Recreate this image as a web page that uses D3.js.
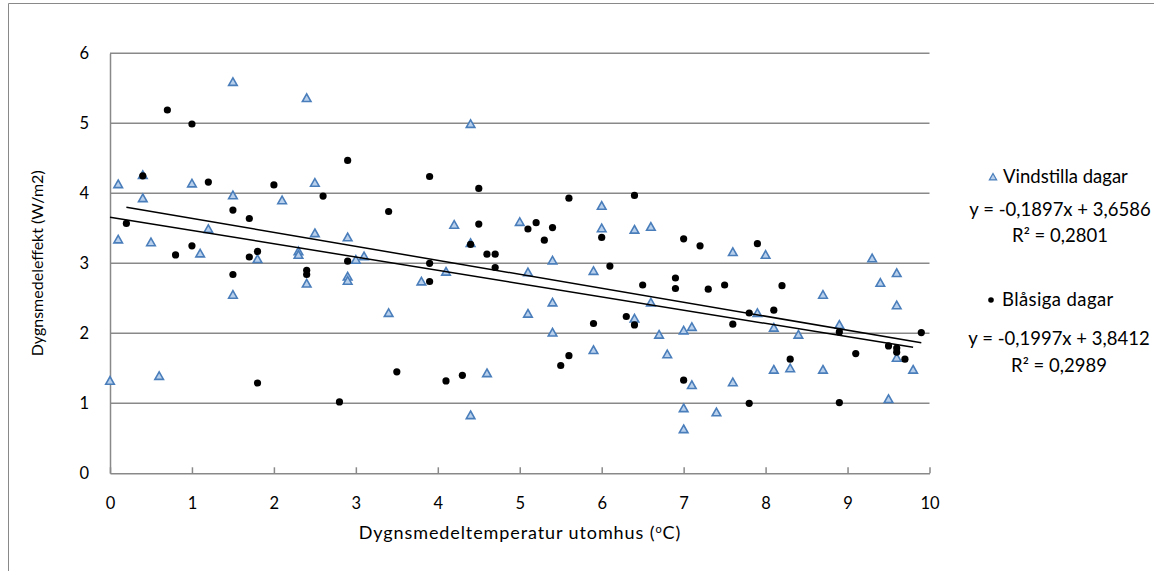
<!DOCTYPE html>
<html>
<head>
<meta charset="utf-8">
<script src="https://cdn.jsdelivr.net/npm/d3@7"></script>
<style>
  html, body { margin: 0; padding: 0; background: #fff; }
  svg { display: block; }
  text { font-family: Lato, "Open Sans", sans-serif; fill: #000; }
</style>
</head>
<body>
<svg id="chart" width="1154" height="571"></svg>
<script>
// Calm days (triangles): outdoor daily mean temperature and daily mean power
const calmTemp = [0.0, 0.1, 0.1, 0.4, 0.4, 0.5, 0.6, 1.0, 1.1, 1.2, 1.5, 1.5, 1.5, 1.8, 2.1, 2.3, 2.3, 2.4, 2.4, 2.5, 2.5,
  2.9, 2.9, 2.9, 3.0, 3.1, 3.4, 3.8, 4.1, 4.2, 4.4, 4.4, 4.4, 4.6, 5.0, 5.1, 5.1, 5.4, 5.4, 5.4, 5.9, 5.9,
  6.0, 6.0, 6.4, 6.4, 6.6, 6.6, 6.7, 6.8, 7.0, 7.0, 7.0, 7.1, 7.1, 7.4, 7.6, 7.6, 7.9, 8.0, 8.1, 8.1, 8.3,
  8.4, 8.7, 8.7, 8.9, 9.3, 9.4, 9.5, 9.6, 9.6, 9.6, 9.8];
const calmPower = [1.32, 4.13, 3.34, 4.26, 3.93, 3.30, 1.39, 4.14, 3.14, 3.49, 5.59, 3.97, 2.55, 3.06, 3.90, 3.17, 3.12, 5.36, 2.71, 4.15, 3.43,
  3.37, 2.81, 2.75, 3.05, 3.10, 2.29, 2.74, 2.88, 3.55, 4.99, 3.29, 0.83, 1.43, 3.59, 2.87, 2.28, 3.04, 2.44, 2.01, 2.89, 1.76,
  3.82, 3.50, 3.48, 2.21, 3.52, 2.44, 1.98, 1.70, 2.04, 0.93, 0.63, 2.09, 1.26, 0.87, 3.16, 1.30, 2.29, 3.12, 2.08, 1.48, 1.50,
  1.98, 2.55, 1.48, 2.12, 3.07, 2.72, 1.06, 2.86, 2.40, 1.65, 1.48];

// Windy days (dots)
const windyTemp = [0.2, 0.4, 0.7, 0.8, 1.0, 1.0, 1.2, 1.5, 1.5, 1.7, 1.7, 1.8, 1.8, 2.0, 2.4, 2.4, 2.6, 2.8, 2.9, 2.9,
  3.4, 3.5, 3.9, 3.9, 3.9, 4.1, 4.3, 4.4, 4.5, 4.5, 4.6, 4.7, 4.7, 5.1, 5.2, 5.3, 5.4, 5.5, 5.6, 5.6, 5.9,
  6.0, 6.1, 6.3, 6.4, 6.4, 6.5, 6.9, 6.9, 7.0, 7.0, 7.2, 7.3, 7.5, 7.6, 7.8, 7.8, 7.9, 8.1, 8.2, 8.3,
  8.9, 8.9, 9.1, 9.5, 9.6, 9.6, 9.7, 9.9];
const windyPower = [3.57, 4.25, 5.19, 3.12, 4.99, 3.25, 4.16, 3.76, 2.84, 3.64, 3.09, 3.17, 1.29, 4.12, 2.90, 2.84, 3.96, 1.02, 4.47, 3.03,
  3.74, 1.45, 4.24, 3.00, 2.74, 1.32, 1.40, 3.27, 4.07, 3.56, 3.13, 3.13, 2.94, 3.49, 3.58, 3.33, 3.51, 1.54, 3.93, 1.68, 2.14,
  3.37, 2.96, 2.24, 3.97, 2.12, 2.69, 2.79, 2.64, 3.35, 1.33, 3.25, 2.63, 2.69, 2.13, 2.29, 1.00, 3.28, 2.33, 2.68, 1.63,
  2.02, 1.01, 1.71, 1.82, 1.79, 1.73, 1.63, 2.01];

// Linear trend coefficients [slope, intercept] and R² per series
const calmTrend = [-0.1897, 3.6586];
const windyTrend = [-0.1997, 3.8412];
const calmR2 = "0,2801";
const windyR2 = "0,2989";

const seriesNames = ["Vindstilla dagar", "Blåsiga dagar"];
const xTicks = [0, 1, 2, 3, 4, 5, 6, 7, 8, 9, 10];
const yTicks = [0, 1, 2, 3, 4, 5, 6];

const svg = d3.select("#chart");
const gridColor = "#898989";

// Outer chart frame
svg.append("path")
  .attr("d", "M8.5,571 V3.5 H1154")
  .attr("fill", "none").attr("stroke", gridColor).attr("stroke-width", 1);

const x = d3.scaleLinear().domain([0, 10]).range([110, 929.5]);
const y = d3.scaleLinear().domain([0, 6]).range([473.3, 53.3]);

// Horizontal gridlines
svg.append("g").selectAll("line")
  .data(yTicks.filter(d => d > 0))
  .join("line")
  .attr("x1", x(0)).attr("x2", x(10))
  .attr("y1", d => y(d)).attr("y2", d => y(d))
  .attr("stroke", gridColor).attr("stroke-width", 1.5);

// X axis with inward ticks
const xAxis = svg.append("g")
  .attr("transform", `translate(0,${y(0)})`)
  .call(d3.axisBottom(x).tickValues(xTicks).tickFormat(d3.format("d"))
    .tickSizeInner(-6).tickSizeOuter(0).tickPadding(24));
xAxis.select(".domain").attr("stroke", gridColor).attr("stroke-width", 1.5);
xAxis.selectAll(".tick line").attr("stroke", gridColor).attr("stroke-width", 1.5);
xAxis.selectAll(".tick text").style("font-size", "16.5px").style("font-family", "Lato, sans-serif").attr("fill", "#000");

// Y axis
const yAxis = svg.append("g")
  .attr("transform", `translate(${x(0)},0)`)
  .call(d3.axisLeft(y).tickValues(yTicks).tickFormat(d3.format("d")).tickSize(0).tickPadding(21));
yAxis.select(".domain").attr("stroke", gridColor).attr("stroke-width", 1.5);
yAxis.selectAll(".tick text").style("font-size", "16.5px").style("font-family", "Lato, sans-serif").attr("fill", "#000");

// Axis titles
svg.append("text")
  .attr("transform", `translate(36,${(y(0) + y(6)) / 2}) rotate(-90)`)
  .attr("text-anchor", "middle").attr("dominant-baseline", "central")
  .style("font-size", "16px")
  .text("Dygnsmedeleffekt (W/m2)");

const xTitle = svg.append("text")
  .attr("x", 520).attr("y", 539)
  .attr("text-anchor", "middle")
  .style("font-size", "18px")
  .style("letter-spacing", "0.9px");
xTitle.append("tspan").text("Dygnsmedeltemperatur utomhus (");
xTitle.append("tspan").attr("dy", -6).style("font-size", "11px").text("o");
xTitle.append("tspan").attr("dy", 6).text("C)");

// Markers
const triangle = (cx, cy) => `M${cx},${cy - 4.2} L${cx + 4.3},${cy + 3.4} L${cx - 4.3},${cy + 3.4} Z`;

const calmData = calmTemp.map((t, i) => [t, calmPower[i]]);
const windyData = windyTemp.map((t, i) => [t, windyPower[i]]);

svg.append("g").selectAll("path")
  .data(calmData)
  .join("path")
  .attr("d", d => triangle(x(d[0]), y(d[1])))
  .attr("fill", "#b9d0ec").attr("stroke", "#4a7ebb").attr("stroke-width", 1.6);

svg.append("g").selectAll("circle")
  .data(windyData)
  .join("circle")
  .attr("cx", d => x(d[0])).attr("cy", d => y(d[1]))
  .attr("r", 3.6).attr("fill", "#000");

// Trend lines across each series' temperature range
function trendLine(temps, coef) {
  const [lo, hi] = d3.extent(temps);
  return [[lo, coef[0] * lo + coef[1]], [hi, coef[0] * hi + coef[1]]];
}
const line = d3.line().x(d => x(d[0])).y(d => y(d[1]));
[trendLine(calmTemp, calmTrend), trendLine(windyTemp, windyTrend)].forEach(seg => {
  svg.append("path").attr("d", line(seg))
    .attr("fill", "none").attr("stroke", "#000").attr("stroke-width", 1.5);
});

// Legend with regression equations
const fmt = v => String(v).replace(".", ",");
function eqText(coef) {
  return `y = ${fmt(coef[0])}x + ${fmt(coef[1])}`;
}
const legend = svg.append("g").style("font-size", "18.5px");

legend.append("path").attr("d", triangle(993, 177))
  .attr("fill", "#b9d0ec").attr("stroke", "#4a7ebb").attr("stroke-width", 1.4)
  .attr("transform", "translate(993,177) scale(0.85) translate(-993,-177)");
legend.append("text").attr("x", 1003).attr("y", 183).text(seriesNames[0]);
legend.append("text").attr("x", 1060).attr("y", 216).attr("text-anchor", "middle").text(eqText(calmTrend));
legend.append("text").attr("x", 1060).attr("y", 242).attr("text-anchor", "middle").text("R² = " + calmR2);

legend.append("circle").attr("cx", 991).attr("cy", 300).attr("r", 2.8).attr("fill", "#000");
legend.append("text").attr("x", 1002).attr("y", 306).style("letter-spacing", "0.4px").text(seriesNames[1]);
legend.append("text").attr("x", 1059).attr("y", 345).attr("text-anchor", "middle").text(eqText(windyTrend));
legend.append("text").attr("x", 1059).attr("y", 372).attr("text-anchor", "middle").text("R² = " + windyR2);
</script>
</body>
</html>
